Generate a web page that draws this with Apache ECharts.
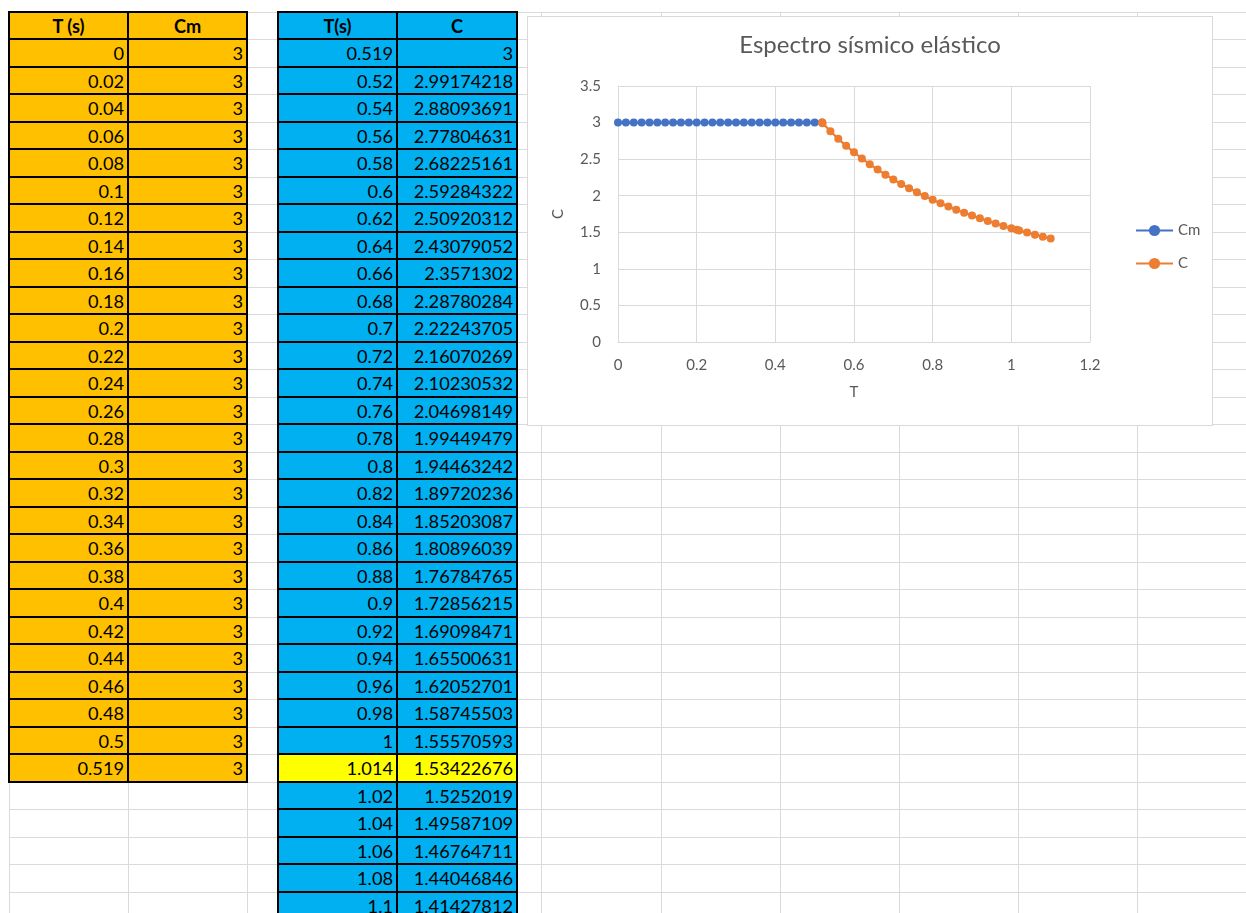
<!DOCTYPE html>
<html>
<head>
<meta charset="utf-8">
<script src="https://cdn.jsdelivr.net/npm/echarts@6/dist/echarts.min.js"></script>
<style>
  html, body { margin: 0; padding: 0; background: #fff; }
  body { width: 1246px; height: 913px; position: relative; overflow: hidden; font-family: Lato, "Open Sans", sans-serif; }
  .gl { position: absolute; background: #dadada; }
  .cell { position: absolute; box-sizing: border-box; font-size: 18.2px; color: #000; text-align: right;
          padding-right: 4px; white-space: nowrap; display: flex; align-items: center; justify-content: flex-end; }
  .hdr { font-weight: bold; justify-content: center; padding-right: 0; }
  .bl { position: absolute; background: #000; }
  #chartBox { position: absolute; left: 527px; top: 16px; width: 684px; height: 408px;
              border: 1px solid #d9d9d9; background: #fff; }
  #chart { width: 684px; height: 408px; }
</style>
</head>
<body>
<div id="sheet"></div>
<div id="chartBox"><div id="chart"></div></div>
<script>
// Constant-branch table: period and coefficient
const tPlateau = [0, 0.02, 0.04, 0.06, 0.08, 0.1, 0.12, 0.14, 0.16, 0.18, 0.2, 0.22, 0.24,
  0.26, 0.28, 0.3, 0.32, 0.34, 0.36, 0.38, 0.4, 0.42, 0.44, 0.46, 0.48, 0.5, 0.519];
const cmPlateau = [3, 3, 3, 3, 3, 3, 3, 3, 3, 3, 3, 3, 3, 3, 3, 3, 3, 3, 3, 3, 3, 3, 3, 3, 3, 3, 3];

// Descending branch table: period and coefficient
const tDecay = [0.519, 0.52, 0.54, 0.56, 0.58, 0.6, 0.62, 0.64, 0.66, 0.68, 0.7, 0.72, 0.74,
  0.76, 0.78, 0.8, 0.82, 0.84, 0.86, 0.88, 0.9, 0.92, 0.94, 0.96, 0.98, 1, 1.014,
  1.02, 1.04, 1.06, 1.08, 1.1];
const cDecay = [3, 2.99174218, 2.88093691, 2.77804631, 2.68225161, 2.59284322, 2.50920312,
  2.43079052, 2.3571302, 2.28780284, 2.22243705, 2.16070269, 2.10230532, 2.04698149,
  1.99449479, 1.94463242, 1.89720236, 1.85203087, 1.80896039, 1.76784765, 1.72856215,
  1.69098471, 1.65500631, 1.62052701, 1.58745503, 1.55570593, 1.53422676, 1.5252019,
  1.49587109, 1.46764711, 1.44046846, 1.41427812];
const highlightedPeriod = 1.014;

// Axis ticks
const xTicks = { min: 0, max: 1.2, step: 0.2 };
const yTicks = { min: 0, max: 3.5, step: 0.5 };

// ---- worksheet background grid ----
const colEdges = [9, 128, 247, 278, 397, 517, 541, 661, 780, 899, 1018, 1137];
const rowTop = 12, rowH = 27.5, pageW = 1246, pageH = 913;
const rowY = i => Math.floor(rowTop + i * rowH);
const sheet = document.getElementById('sheet');
function box(cls, x, y, w, h, extra) {
  const d = document.createElement('div');
  d.className = cls;
  Object.assign(d.style, { left: x + 'px', top: y + 'px', width: w + 'px', height: h + 'px' }, extra || {});
  sheet.appendChild(d);
  return d;
}
for (const x of colEdges) box('gl', x, rowTop, 1, pageH - rowTop);
for (let i = 0; rowY(i) < pageH; i++) box('gl', colEdges[0], rowY(i), pageW - colEdges[0], 1);

// ---- data tables ----
function drawTable(x0, x1, x2, headers, col1, col2, bg, hiKey) {
  const n = col1.length + 1;
  for (let r = 0; r < n; r++) {
    const y = rowY(r), h = rowY(r + 1) - y;
    const isHdr = r === 0;
    const fill = (!isHdr && col1[r - 1] === hiKey) ? '#ffff00' : bg;
    const a = box('cell' + (isHdr ? ' hdr' : ''), x0, y, x1 - x0, h, { background: fill });
    const b = box('cell' + (isHdr ? ' hdr' : ''), x1, y, x2 - x1, h, { background: fill });
    a.textContent = isHdr ? headers[0] : String(col1[r - 1]);
    b.textContent = isHdr ? headers[1] : String(col2[r - 1]);
  }
  const yEnd = rowY(n);
  for (const x of [x0, x1, x2]) box('bl', x - 1, rowTop - 1, 2, yEnd - rowTop + 2);
  for (let r = 0; r <= n; r++) box('bl', x0 - 1, rowY(r) - 1, x2 - x0 + 2, 2);
}
drawTable(colEdges[0], colEdges[1], colEdges[2], ['T (s)', 'Cm'], tPlateau, cmPlateau, '#ffc000', null);
drawTable(colEdges[3], colEdges[4], colEdges[5], ['T(s)', 'C'], tDecay, cDecay, '#00b0f0', highlightedPeriod);

// ---- spectrum chart ----
const txt = '#595959', grid = '#d9d9d9', font = 'Lato, "Open Sans", sans-serif';
const chart = echarts.init(document.getElementById('chart'), null, { renderer: 'canvas' });
chart.setOption({
  animation: false,
  textStyle: { fontFamily: font },
  title: {
    text: 'Espectro sísmico elástico', left: 'center', top: 16, padding: 0,
    textStyle: { color: txt, fontSize: 24, fontWeight: 'normal', fontFamily: font }
  },
  legend: {
    orient: 'vertical', left: 602, top: 201, itemWidth: 37, itemHeight: 14, itemGap: 18,
    textStyle: { color: txt, fontSize: 15, fontFamily: font },
    data: ['Cm', 'C']
  },
  grid: { left: 90, right: 122, top: 69, bottom: 83, containLabel: false },
  xAxis: {
    type: 'value', min: xTicks.min, max: xTicks.max, interval: xTicks.step,
    name: 'T', nameLocation: 'middle', nameGap: 43,
    nameTextStyle: { color: txt, fontSize: 15, fontFamily: font },
    axisLine: { show: true, onZero: false, lineStyle: { color: grid, width: 1 } },
    axisTick: { show: false },
    axisLabel: { color: txt, fontSize: 15, margin: 16, fontFamily: font },
    splitLine: { show: true, lineStyle: { color: grid, width: 1 } }
  },
  yAxis: {
    type: 'value', min: yTicks.min, max: yTicks.max, interval: yTicks.step,
    name: 'C', nameLocation: 'middle', nameGap: 52, nameRotate: 90,
    nameTextStyle: { color: txt, fontSize: 15, fontFamily: font },
    axisLine: { show: true, lineStyle: { color: grid, width: 1 } },
    axisTick: { show: false },
    axisLabel: { color: txt, fontSize: 15, margin: 17, fontFamily: font },
    splitLine: { show: true, lineStyle: { color: grid, width: 1 } }
  },
  series: [
    {
      name: 'Cm', type: 'line', symbol: 'circle', symbolSize: 8, showSymbol: true,
      itemStyle: { color: '#4472c4' }, lineStyle: { color: '#4472c4', width: 2.25 },
      data: tPlateau.map((t, i) => [t, cmPlateau[i]]), z: 2
    },
    {
      name: 'C', type: 'line', symbol: 'circle', symbolSize: 8, showSymbol: true,
      itemStyle: { color: '#ed7d31' }, lineStyle: { color: '#ed7d31', width: 2.25 },
      data: tDecay.map((t, i) => [t, cDecay[i]]), z: 3
    }
  ]
});
</script>
</body>
</html>
